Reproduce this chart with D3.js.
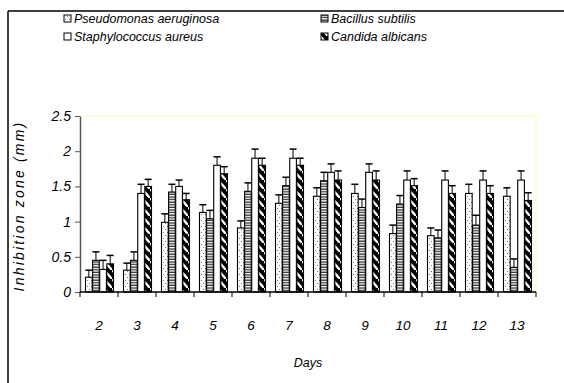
<!DOCTYPE html>
<html>
<head>
<meta charset="utf-8">
<script src="https://cdn.jsdelivr.net/npm/d3@7"></script>
<style>
  body { margin: 0; background: #fff; }
  svg { display: block; font-family: "Liberation Sans", Arial, sans-serif; }
</style>
</head>
<body>
<div id="chart"></div>
<script>
// Data
const days = ["2", "3", "4", "5", "6", "7", "8", "9", "10", "11", "12", "13"];
const seriesNames = ["Pseudomonas aeruginosa", "Bacillus subtilis", "Staphylococcus aureus", "Candida albicans"];
const pseudomonas = [0.21, 0.31, 0.99, 1.13, 0.91, 1.26, 1.36, 1.40, 0.83, 0.80, 1.40, 1.36];
const bacillus    = [0.45, 0.45, 1.42, 1.04, 1.43, 1.51, 1.58, 1.20, 1.25, 0.77, 0.95, 0.35];
const staph       = [0.32, 1.40, 1.50, 1.80, 1.90, 1.90, 1.70, 1.70, 1.59, 1.59, 1.59, 1.59];
const candida     = [0.40, 1.50, 1.31, 1.68, 1.80, 1.80, 1.59, 1.59, 1.51, 1.40, 1.40, 1.30];
// error bar (upper) lengths
const errP = [0.10, 0.10, 0.12, 0.11, 0.10, 0.12, 0.12, 0.13, 0.12, 0.11, 0.13, 0.12];
const errB = [0.12, 0.12, 0.11, 0.12, 0.12, 0.12, 0.12, 0.12, 0.12, 0.11, 0.14, 0.12];
const errS = [0.13, 0.13, 0.09, 0.12, 0.13, 0.13, 0.12, 0.12, 0.13, 0.13, 0.13, 0.13];
const errC = [0.12, 0.10, 0.09, 0.10, 0.10, 0.10, 0.13, 0.13, 0.10, 0.11, 0.11, 0.11];
const yTicks = [0, 0.5, 1, 1.5, 2, 2.5];

const width = 564, height = 383;
const margin = { left: 80, right: 28, top: 116, bottom: 91 };

const values = [pseudomonas, bacillus, staph, candida];
const errors = [errP, errB, errS, errC];
const fills = ["url(#dots)", "url(#hstripes)", "#fff", "url(#diag)"];

const svg = d3.select("#chart").append("svg")
    .attr("width", width)
    .attr("height", height);

// Fill patterns
const defs = svg.append("defs");

const dots = defs.append("pattern").attr("id", "dots")
    .attr("patternUnits", "userSpaceOnUse").attr("width", 4).attr("height", 6);
dots.append("rect").attr("width", 4).attr("height", 6).attr("fill", "#fff");
dots.append("rect").attr("x", 1).attr("y", 1).attr("width", 1).attr("height", 1).attr("fill", "#777");
dots.append("rect").attr("x", 3).attr("y", 4).attr("width", 1).attr("height", 1).attr("fill", "#777");

const hs = defs.append("pattern").attr("id", "hstripes")
    .attr("patternUnits", "userSpaceOnUse").attr("width", 4).attr("height", 2.6);
hs.append("rect").attr("width", 4).attr("height", 2.6).attr("fill", "#fff");
hs.append("rect").attr("y", 1.3).attr("width", 4).attr("height", 1.3).attr("fill", "#333");

const dg = defs.append("pattern").attr("id", "diag")
    .attr("patternUnits", "userSpaceOnUse").attr("width", 8).attr("height", 9);
dg.append("rect").attr("width", 8).attr("height", 9).attr("fill", "#000");
dg.append("line").attr("x1", 0).attr("y1", 0).attr("x2", 8).attr("y2", 9)
    .attr("stroke", "#fff").attr("stroke-width", 2.4);

// Outer frame (top and left edges visible)
svg.append("line").attr("x1", 8).attr("x2", width).attr("y1", 11).attr("y2", 11)
    .attr("stroke", "#000").attr("stroke-width", 1.5);
svg.append("line").attr("x1", 8).attr("x2", 8).attr("y1", 11).attr("y2", height)
    .attr("stroke", "#000").attr("stroke-width", 1.5);

// Scales
const x0 = d3.scaleBand()
    .domain(days)
    .range([margin.left, width - margin.right])
    .paddingInner(0)
    .paddingOuter(0);

const x1 = d3.scaleBand()
    .domain(d3.range(seriesNames.length))
    .range([5.5, x0.bandwidth() - 4.5])
    .paddingInner(0.06);

const y = d3.scaleLinear()
    .domain([0, 2.5])
    .range([height - margin.bottom, margin.top]);

// Plot area border (pale yellow, top and right)
svg.append("path")
    .attr("d", `M${margin.left},${y(2.5)}H${width - margin.right}V${y(0)}`)
    .attr("fill", "none")
    .attr("stroke", "#ffffc8")
    .attr("stroke-width", 1.5);

// Bars
const g = svg.append("g");
const groups = g.selectAll("g.day")
    .data(days)
    .join("g")
    .attr("class", "day")
    .attr("transform", d => `translate(${x0(d)},0)`);

groups.each(function(day, di) {
    const grp = d3.select(this);
    values.forEach((vals, si) => {
        const v = vals[di];
        const e = errors[si][di];
        const bx = x1(si), bw = x1.bandwidth();
        // error bar
        grp.append("line")
            .attr("x1", bx + bw / 2).attr("x2", bx + bw / 2)
            .attr("y1", y(v)).attr("y2", y(v + e))
            .attr("stroke", "#000").attr("stroke-width", 1);
        grp.append("line")
            .attr("x1", bx + bw / 2 - 3.5).attr("x2", bx + bw / 2 + 3.5)
            .attr("y1", y(v + e)).attr("y2", y(v + e))
            .attr("stroke", "#000").attr("stroke-width", 1.5);
        grp.append("rect")
            .attr("x", bx)
            .attr("y", y(v))
            .attr("width", bw)
            .attr("height", y(0) - y(v))
            .attr("fill", fills[si])
            .attr("stroke", "#000")
            .attr("stroke-width", 1.1);
    });
});

// Y axis
const yAxis = svg.append("g")
    .attr("transform", `translate(${margin.left},0)`)
    .call(d3.axisLeft(y).tickValues(yTicks).tickFormat(d3.format("")).tickSize(5).tickSizeOuter(0));
yAxis.select(".domain").attr("stroke", "#555").attr("stroke-width", 1.5);
yAxis.selectAll(".tick line").attr("stroke", "#555");
yAxis.selectAll(".tick text")
    .attr("x", -9)
    .style("font-size", "14px")
    .style("font-style", "italic")
    .attr("fill", "#000");

// X axis: ticks on category boundaries
const xAxis = svg.append("g")
    .attr("transform", `translate(0,${y(0)})`);
xAxis.append("line")
    .attr("x1", margin.left).attr("x2", width - margin.right)
    .attr("stroke", "#000").attr("stroke-width", 1.5);
xAxis.selectAll("line.tk")
    .data(days.concat(["end"]))
    .join("line")
    .attr("class", "tk")
    .attr("x1", (d, i) => margin.left + i * x0.bandwidth())
    .attr("x2", (d, i) => margin.left + i * x0.bandwidth())
    .attr("y1", 0).attr("y2", 5)
    .attr("stroke", "#000");
xAxis.selectAll("text")
    .data(days)
    .join("text")
    .attr("x", d => x0(d) + x0.bandwidth() / 2)
    .attr("y", 38)
    .attr("text-anchor", "middle")
    .style("font-size", "13.5px")
    .style("font-style", "italic")
    .text(d => d);

// Axis titles
svg.append("text")
    .attr("x", (margin.left + width - margin.right) / 2)
    .attr("y", 367)
    .attr("text-anchor", "middle")
    .style("font-size", "12.5px")
    .style("font-style", "italic")
    .text("Days");

svg.append("text")
    .attr("transform", `translate(24,${(y(0) + y(2.5)) / 2 + 2}) rotate(-90)`)
    .attr("text-anchor", "middle")
    .style("font-size", "14px")
    .style("font-style", "italic")
    .style("letter-spacing", "2.2px")
    .text("Inhibition zone (mm)");

// Legend
const legendPos = [[64, 23], [321, 23], [64, 41], [321, 41]];
const legend = svg.append("g");
seriesNames.forEach((name, i) => {
    const [lx, ly] = legendPos[i];
    legend.append("rect")
        .attr("x", lx).attr("y", ly - 8)
        .attr("width", 7).attr("height", 7)
        .attr("fill", fills[i])
        .attr("stroke", "#000");
    legend.append("text")
        .attr("x", lx + 10).attr("y", ly)
        .style("font-size", "12.5px")
        .style("font-style", "italic")
        .text(name);
});
</script>
</body>
</html>
